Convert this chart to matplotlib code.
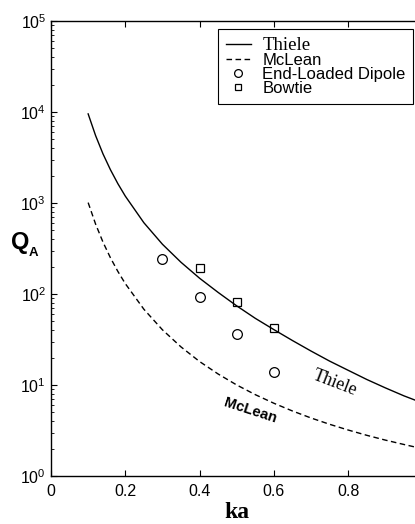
import matplotlib
matplotlib.use('Agg')
import matplotlib.pyplot as plt

plt.rcParams['font.family'] = ['Liberation Sans', 'DejaVu Sans']
plt.rcParams['mathtext.default'] = 'regular'

# values
ka = [0.10, 0.12, 0.14, 0.16, 0.18, 0.20, 0.25, 0.30, 0.35, 0.40, 0.45, 0.50,
      0.55, 0.60, 0.65, 0.70, 0.75, 0.80, 0.85, 0.90, 0.95, 0.985]
q_thiele = [9530, 5510, 3460, 2320, 1630, 1190, 607, 352, 223, 149, 104, 74,
            54, 40.6, 30.8, 23.6, 18.3, 14.5, 11.5, 9.3, 7.6, 6.7]
q_mclean = [1010, 587, 371, 250, 177, 130, 68, 40.4, 26.2, 18.1, 13.2, 10,
            7.83, 6.3, 5.18, 4.34, 3.7, 3.2, 2.8, 2.48, 2.22, 2.06]

ka_dipole = [0.3, 0.4, 0.5, 0.6]
q_dipole = [243, 92, 36, 14]
ka_bowtie = [0.4, 0.5, 0.6]
q_bowtie = [194, 82, 42]

x_ticks = [0, 0.2, 0.4, 0.6, 0.8]
x_ticklabels = ['0', '0.2', '0.4', '0.6', '0.8']

fig = plt.figure(figsize=(4.15, 5.24), dpi=100)
ax = fig.add_axes([51 / 415, 1 - 476 / 524, 1 - 51 / 415, (476 - 21) / 524])

ax.plot(ka, q_thiele, color='black', lw=1.0, label='Thiele')
ax.plot(ka, q_mclean, color='black', lw=1.0, ls=(0, (4, 2.5)), label='McLean')
ax.plot(ka_dipole, q_dipole, 'o', mfc='none', mec='black', mew=0.9, ms=7,
        label='End-Loaded Dipole')
ax.plot(ka_bowtie, q_bowtie, 's', mfc='none', mec='black', mew=0.9, ms=5.5,
        label='Bowtie')

ax.set_yscale('log')
ax.set_ylim(1, 1e5)
ax.set_xlim(0, (415 - 51) / 371.5)
ax.set_xticks(x_ticks)
ax.set_xticklabels(x_ticklabels)

ax.tick_params(axis='both', which='major', direction='in', length=4, width=0.8,
               labelsize=11.5, top=True, right=False)
ax.tick_params(axis='y', which='minor', direction='in', length=2, width=0.6, right=False)
ax.tick_params(axis='x', which='major', pad=6)
ax.spines['right'].set_visible(False)
for s in ['left', 'bottom', 'top']:
    ax.spines[s].set_linewidth(1.0)

leg = ax.legend(loc='upper right', bbox_to_anchor=(413 / 415, 1 - 29 / 524),
                bbox_transform=fig.transFigure, borderaxespad=0, fancybox=False,
                edgecolor='black', framealpha=1, fontsize=12, handlelength=1.5,
                handletextpad=0.7, labelspacing=-0.05, borderpad=0.45,
                markerscale=0.8)
leg.get_frame().set_linewidth(0.8)
leg.get_texts()[0].set_fontfamily('Liberation Serif')
leg.get_texts()[0].set_fontsize(13.5)

ax.text(0.765, 10.5, 'Thiele', family='Liberation Serif', fontsize=13,
        rotation=-21, ha='center', va='center')
ax.text(0.535, 5.2, 'McLean', fontsize=10.5, fontweight='bold',
        rotation=-18, ha='center', va='center')

fig.text(20 / 415, 1 - 243 / 524, 'Q', fontsize=17, fontweight='bold',
         ha='center', va='center')
fig.text(33 / 415, 1 - 253 / 524, 'A', fontsize=9.5, fontweight='bold',
         ha='center', va='center')
fig.text(237 / 415, 1 - 513 / 524, 'ka', family='Liberation Serif', fontsize=17,
         fontweight='bold', ha='center', va='center')

fig.savefig('out.png', dpi=100)
